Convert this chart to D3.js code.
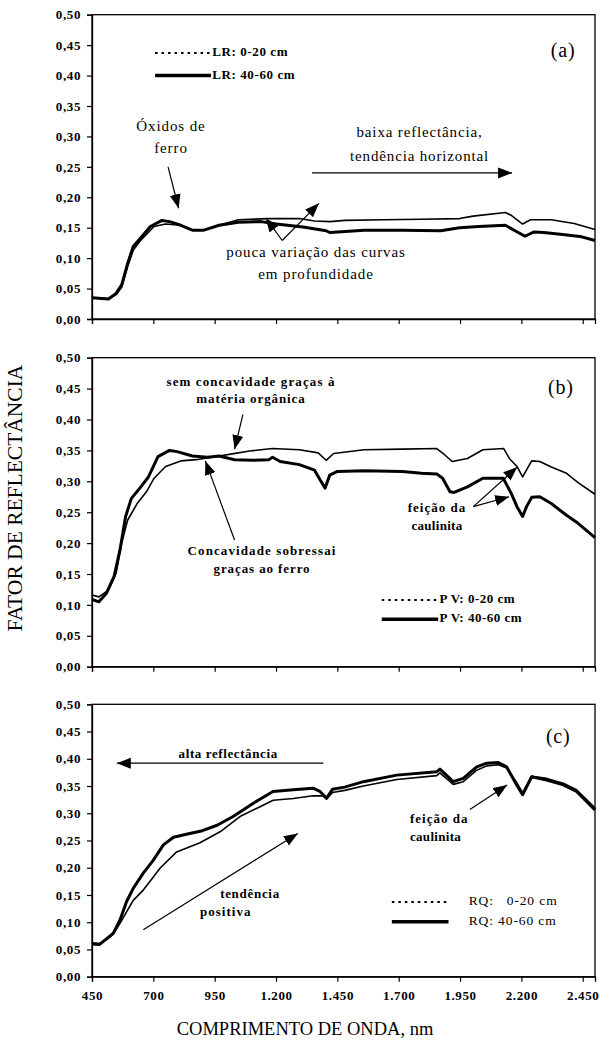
<!DOCTYPE html>
<html><head><meta charset="utf-8">
<script src="https://cdn.jsdelivr.net/npm/d3@7"></script>
<style>
html,body{margin:0;padding:0;background:#fff;}
svg{display:block;}
</style></head>
<body>
<svg id="chart" width="602" height="1043"></svg>
<script>
// ---------------- DATA ----------------
const xTicks = [450, 700, 950, 1200, 1450, 1700, 1950, 2200, 2450];
const yTicks = [0, 0.05, 0.10, 0.15, 0.20, 0.25, 0.30, 0.35, 0.40, 0.45, 0.50];

// Panel (a) LR
const lrTopNm = [450,517,548,571,595,618,650,703,750,812,859,906,968,1046,1170,1295,1357,1420,1481,1637,1793,1948,2003,2135,2160,2205,2237,2290,2322,2415,2500];
const lrTopVal = [0.035,0.033,0.040,0.052,0.086,0.113,0.130,0.152,0.156,0.154,0.146,0.146,0.154,0.163,0.165,0.165,0.161,0.160,0.162,0.163,0.164,0.165,0.169,0.175,0.170,0.156,0.163,0.163,0.163,0.157,0.147];
const lrDeepNm = [450,517,548,571,595,618,650,688,735,766,812,859,906,968,1046,1139,1201,1310,1404,1420,1559,1715,1871,1948,2026,2135,2174,2215,2250,2291,2368,2446,2500];
const lrDeepVal = [0.035,0.033,0.042,0.056,0.091,0.119,0.134,0.152,0.162,0.160,0.154,0.146,0.146,0.154,0.159,0.160,0.156,0.151,0.145,0.142,0.146,0.146,0.145,0.150,0.152,0.154,0.145,0.136,0.143,0.142,0.139,0.135,0.129];

// Panel (b) PV
const pvTopNm = [450,478,517,548,571,595,634,672,703,750,812,875,937,1015,1092,1186,1295,1372,1404,1435,1559,1715,1855,1887,1918,1980,2043,2128,2151,2182,2205,2242,2275,2322,2384,2431,2500];
const pvTopVal = [0.116,0.113,0.124,0.151,0.200,0.237,0.264,0.283,0.305,0.324,0.333,0.335,0.339,0.344,0.349,0.353,0.351,0.346,0.334,0.345,0.351,0.352,0.353,0.343,0.332,0.337,0.351,0.353,0.337,0.324,0.307,0.333,0.332,0.323,0.313,0.298,0.279];
const pvDeepNm = [450,478,509,540,564,587,610,649,680,719,766,797,859,922,968,1031,1108,1170,1186,1217,1295,1357,1380,1400,1419,1450,1559,1715,1793,1855,1879,1909,1926,1980,2043,2126,2159,2182,2205,2221,2242,2275,2322,2384,2431,2500];
const pvDeepVal = [0.109,0.105,0.119,0.146,0.189,0.243,0.272,0.291,0.307,0.340,0.350,0.348,0.341,0.339,0.341,0.335,0.334,0.335,0.339,0.332,0.327,0.318,0.302,0.289,0.310,0.316,0.317,0.316,0.313,0.312,0.305,0.283,0.282,0.291,0.305,0.305,0.280,0.259,0.243,0.259,0.274,0.275,0.264,0.245,0.232,0.209];

// Panel (c) RQ
const rqTopNm = [450,480,510,537,564,591,618,659,700,727,795,890,972,1053,1135,1188,1270,1351,1390,1406,1430,1480,1556,1692,1855,1868,1922,1963,2018,2059,2106,2140,2181,2205,2242,2303,2371,2425,2500];
const rqTopVal = [0.062,0.061,0.068,0.078,0.098,0.119,0.140,0.159,0.183,0.199,0.229,0.246,0.266,0.294,0.312,0.324,0.327,0.332,0.332,0.326,0.338,0.342,0.350,0.362,0.369,0.374,0.353,0.358,0.379,0.387,0.389,0.383,0.356,0.338,0.368,0.364,0.355,0.343,0.310];
const rqDeepNm = [450,480,510,537,564,591,618,659,700,741,782,830,900,960,1025,1106,1188,1270,1351,1379,1406,1430,1480,1556,1692,1855,1868,1922,1963,2018,2059,2106,2140,2181,2205,2242,2303,2371,2425,2500];
const rqDeepVal = [0.060,0.059,0.070,0.080,0.104,0.138,0.162,0.190,0.214,0.242,0.256,0.261,0.268,0.278,0.294,0.318,0.340,0.343,0.346,0.340,0.328,0.344,0.348,0.358,0.370,0.376,0.381,0.358,0.364,0.385,0.392,0.393,0.385,0.352,0.334,0.367,0.361,0.352,0.340,0.306];

const legendA = ["LR: 0-20 cm", "LR: 40-60 cm"];
const legendB = ["P V: 0-20 cm", "P V: 40-60 cm"];
const legendC = ["RQ:   0-20 cm", "RQ: 40-60 cm"];
const panelLabels = ["(a)", "(b)", "(c)"];
const yTitle = "FATOR DE REFLECTÂNCIA";
const xTitle = "COMPRIMENTO DE ONDA, nm";

// ---------------- DRAWING ----------------
const FONT = "'Liberation Serif', 'Times New Roman', serif";
const svg = d3.select("#chart");
const X0 = 92, X1 = 595;
const x = d3.scaleLinear().domain([450, 2500]).range([X0, X1]);

const defs = svg.append("defs");
defs.append("marker").attr("id", "ah")
  .attr("markerUnits", "userSpaceOnUse")
  .attr("markerWidth", 15).attr("markerHeight", 12)
  .attr("refX", 14).attr("refY", 5.5).attr("orient", "auto")
  .append("path").attr("d", "M0,0 L14,5.5 L0,11 Z").attr("fill", "#000");

const fmtY = d => d3.format(".2f")(d).replace(".", ",");
const fmtX = d => d >= 1000 ? d3.format(",")(d).replace(",", ".") : String(d);

function panel(top, bottom, showXLabels) {
  const y = d3.scaleLinear().domain([0, 0.5]).range([bottom, top]);
  const g = svg.append("g");
  g.append("rect").attr("x", X0).attr("y", top).attr("width", X1 - X0).attr("height", bottom - top)
    .attr("fill", "none").attr("stroke", "#000").attr("stroke-width", 1.3);
  const ya = g.append("g").attr("transform", `translate(${X0},0)`)
    .call(d3.axisLeft(y).tickValues(yTicks).tickFormat(fmtY).tickSize(5).tickPadding(6));
  const xa = g.append("g").attr("transform", `translate(0,${bottom})`)
    .call(d3.axisBottom(x).tickValues(xTicks).tickFormat(showXLabels ? fmtX : () => "").tickSize(5).tickPadding(9));
  [ya, xa].forEach(a => {
    a.select(".domain").attr("stroke-width", 1.3);
    a.selectAll(".tick line").attr("stroke-width", 1.2);
    a.selectAll("text").style("font-family", FONT).style("font-size", "13px")
      .style("font-weight", "bold").style("letter-spacing", "0.6px").attr("fill", "#000");
  });
  return {g, y};
}

function curve(p, nm, val, width) {
  const line = d3.line().x((d, i) => x(nm[i])).y(d => p.y(d));
  p.g.append("path").datum(val).attr("d", line).attr("fill", "none")
    .attr("stroke", "#000").attr("stroke-width", width).attr("stroke-linejoin", "round");
}

function arrow(p, nm1, v1, nm2, v2) {
  p.g.append("line").attr("x1", x(nm1)).attr("y1", p.y(v1)).attr("x2", x(nm2)).attr("y2", p.y(v2))
    .attr("stroke", "#000").attr("stroke-width", 1.2).attr("marker-end", "url(#ah)");
}

function label(p, nm, v, txt, opts = {}) {
  p.g.append("text").attr("x", x(nm)).attr("y", p.y(v))
    .attr("text-anchor", opts.anchor || "middle").attr("dominant-baseline", "middle")
    .style("font-family", FONT)
    .style("font-size", (opts.size || 14) + "px")
    .style("font-weight", opts.bold ? "bold" : "normal")
    .style("letter-spacing", (opts.ls || 0) + "px")
    .style("white-space", "pre")
    .attr("fill", "#000")
    .text(txt);
}

function legend(p, nmA, nmB, vTop, vBot, texts, opts) {
  p.g.append("line").attr("x1", x(nmA)).attr("x2", x(nmB)).attr("y1", p.y(vTop)).attr("y2", p.y(vTop))
    .attr("stroke", "#000").attr("stroke-width", 2).attr("stroke-dasharray", "2.5,4");
  p.g.append("line").attr("x1", x(nmA)).attr("x2", x(nmB)).attr("y1", p.y(vBot)).attr("y2", p.y(vBot))
    .attr("stroke", "#000").attr("stroke-width", 3.5);
  label(p, opts.textNm, vTop, texts[0], {anchor: "start", size: opts.size, bold: opts.bold, ls: opts.ls});
  label(p, opts.textNm, vBot, texts[1], {anchor: "start", size: opts.size, bold: opts.bold, ls: opts.ls});
}

// Panel (a)
const pa = panel(14.7, 319, false);
curve(pa, lrTopNm, lrTopVal, 1.6);
curve(pa, lrDeepNm, lrDeepVal, 3);
legend(pa, 707, 935, 0.437, 0.400, legendA, {textNm: 940, size: 13, bold: true, ls: 0.6});
label(pa, 2370, 0.438, panelLabels[0], {size: 20, ls: 0.8});
label(pa, 772, 0.315, "Óxidos de", {size: 15, ls: 0.9});
label(pa, 772, 0.278, "ferro", {size: 15, ls: 0.9});
arrow(pa, 760, 0.250, 803, 0.182);
label(pa, 1785, 0.305, "baixa reflectância,", {size: 15, ls: 0.85});
label(pa, 1785, 0.266, "tendência horizontal", {size: 15, ls: 0.85});
arrow(pa, 1347, 0.240, 2162, 0.240);
label(pa, 1363, 0.108, "pouca variação das curvas", {size: 15, ls: 0.9});
label(pa, 1363, 0.071, "em profundidade", {size: 15, ls: 0.9});
arrow(pa, 1225, 0.129, 1158, 0.166);
arrow(pa, 1225, 0.129, 1375, 0.190);

// Panel (b)
const pb = panel(357.7, 666.7, false);
curve(pb, pvTopNm, pvTopVal, 1.6);
curve(pb, pvDeepNm, pvDeepVal, 3);
legend(pb, 1631, 1861, 0.108, 0.0767, legendB, {textNm: 1866, size: 13, bold: true, ls: 0.5});
label(pb, 2361, 0.448, panelLabels[1], {size: 20, ls: 0.8});
label(pb, 1098, 0.459, "sem concavidade graças à", {size: 13, bold: true, ls: 1.1});
label(pb, 1098, 0.431, "matéria orgânica", {size: 13, bold: true, ls: 0.9});
arrow(pb, 1065, 0.408, 1031, 0.352);
label(pb, 1143, 0.186, "Concavidade sobressai", {size: 13, bold: true, ls: 1.1});
label(pb, 1143, 0.156, "graças ao ferro", {size: 13, bold: true, ls: 0.9});
arrow(pb, 1031, 0.205, 912, 0.333);
label(pb, 1856, 0.255, "feição da", {size: 13, bold: true, ls: 1});
label(pb, 1856, 0.226, "caulinita", {size: 13, bold: true, ls: 0.3});
arrow(pb, 2004, 0.259, 2183, 0.323);
arrow(pb, 2004, 0.259, 2150, 0.275);

// Panel (c)
const pc = panel(704.3, 976.7, true);
curve(pc, rqTopNm, rqTopVal, 1.6);
curve(pc, rqDeepNm, rqDeepVal, 3);
legend(pc, 1672, 1903, 0.137, 0.101, legendC, {textNm: 1985, size: 13.5, bold: false, ls: 0.9});
label(pc, 2350, 0.438, panelLabels[2], {size: 20, ls: 0.8});
label(pc, 1005, 0.407, "alta reflectância", {size: 13, bold: true, ls: 0.6});
arrow(pc, 1393, 0.392, 551, 0.392);
label(pc, 1094, 0.150, "tendência", {size: 13, bold: true, ls: 0.7});
label(pc, 995, 0.1175, "positiva", {size: 13, bold: true, ls: 1});
arrow(pc, 659, 0.086, 1289, 0.263);
label(pc, 1746, 0.2876, "feição da", {size: 13, bold: true, anchor: "start", ls: 1});
label(pc, 1746, 0.254, "caulinita", {size: 13, bold: true, anchor: "start", ls: 0.3});
arrow(pc, 1990, 0.307, 2142, 0.352);

// Axis titles
svg.append("text").attr("transform", "translate(17,498) rotate(-90)")
  .attr("text-anchor", "middle").attr("dominant-baseline", "middle")
  .style("font-family", FONT).style("font-size", "21.5px")
  .attr("fill", "#000").text(yTitle);
svg.append("text").attr("x", 305).attr("y", 1031)
  .attr("text-anchor", "middle").attr("dominant-baseline", "middle")
  .style("font-family", FONT).style("font-size", "18.5px")
  .attr("fill", "#000").text(xTitle);
</script>
</body></html>
